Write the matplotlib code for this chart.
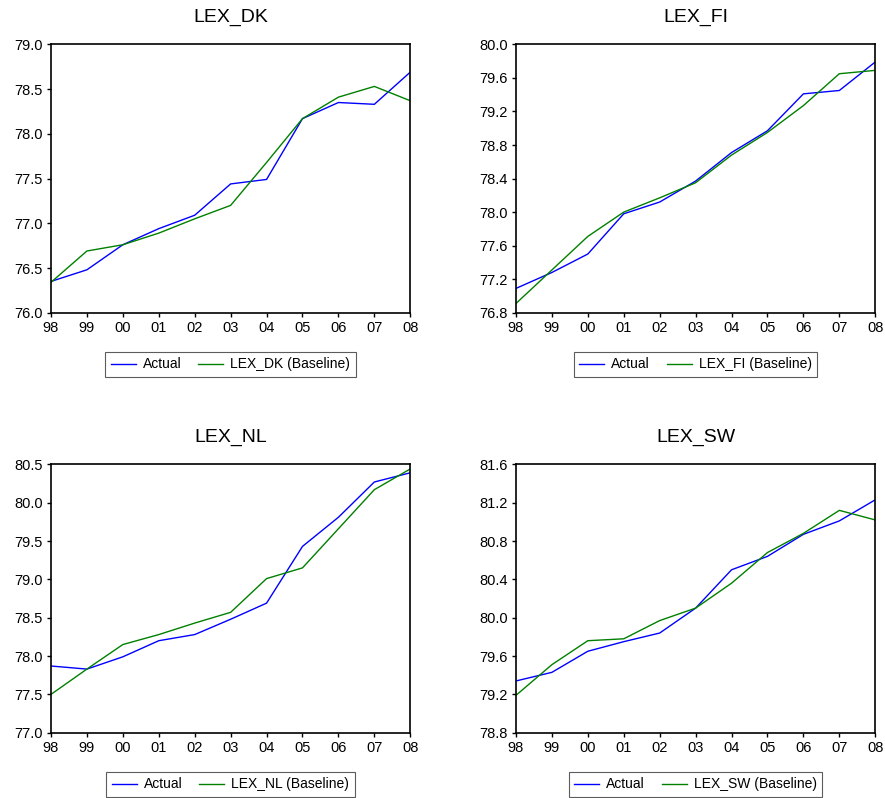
import numpy as np
import matplotlib.pyplot as plt

plt.rcParams['font.family'] = ['Liberation Sans', 'DejaVu Sans']

# --- Datos ---
years = ['98', '99', '00', '01', '02', '03', '04', '05', '06', '07', '08']

dk_actual = [76.35, 76.48, 76.76, 76.94, 77.09, 77.44, 77.49, 78.17, 78.35, 78.33, 78.69]
dk_base = [76.34, 76.69, 76.76, 76.89, 77.05, 77.20, 77.68, 78.17, 78.41, 78.53, 78.37]

fi_actual = [77.09, 77.28, 77.50, 77.98, 78.12, 78.37, 78.71, 78.97, 79.41, 79.45, 79.79]
fi_base = [76.91, 77.31, 77.71, 78.00, 78.17, 78.35, 78.68, 78.95, 79.27, 79.65, 79.69]

nl_actual = [77.87, 77.83, 77.99, 78.20, 78.28, 78.48, 78.69, 79.43, 79.81, 80.27, 80.39]
nl_base = [77.50, 77.83, 78.15, 78.28, 78.43, 78.57, 79.01, 79.15, 79.66, 80.17, 80.44]

sw_actual = [79.34, 79.43, 79.65, 79.75, 79.84, 80.10, 80.50, 80.64, 80.87, 81.01, 81.23]
sw_base = [79.19, 79.51, 79.76, 79.78, 79.97, 80.10, 80.36, 80.68, 80.88, 81.12, 81.02]

panels = [
    ('LEX_DK', dk_actual, dk_base, (76.0, 79.0), 0.5),
    ('LEX_FI', fi_actual, fi_base, (76.8, 80.0), 0.4),
    ('LEX_NL', nl_actual, nl_base, (77.0, 80.5), 0.5),
    ('LEX_SW', sw_actual, sw_base, (78.8, 81.6), 0.4),
]

# posiciones de los ejes (fracciones de la figura)
lefts = [0.0576, 0.583, 0.0576, 0.583]
bottoms = [0.6081, 0.6081, 0.0818, 0.0818]
w, h = 0.406, 0.3363

fig = plt.figure(figsize=(8.85, 7.98), dpi=100)
x = np.arange(len(years))

for i, (name, act, base, ylim, step) in enumerate(panels):
    ax = fig.add_axes([lefts[i], bottoms[i], w, h])
    ax.plot(x, act, color='#0000FF', linewidth=1.0, label='Actual')
    ax.plot(x, base, color='#008000', linewidth=1.0, label=f'{name} (Baseline)')
    ax.set_xlim(0, 10)
    ax.set_ylim(*ylim)
    ax.set_xticks(x)
    ax.set_xticklabels(years)
    ax.set_yticks(np.arange(ylim[0], ylim[1] + step / 2, step))
    ax.yaxis.set_major_formatter(plt.FormatStrFormatter('%.1f'))
    ax.tick_params(direction='out', length=3, width=1, labelsize=10.5,
                   top=False, right=False)
    ax.tick_params(axis='x', pad=3)
    ax.tick_params(axis='y', pad=3)
    for s in ax.spines.values():
        s.set_linewidth(1.2)
    ax.set_title(name, fontsize=14, pad=16)
    leg = ax.legend(loc='upper center', bbox_to_anchor=(0.5, -0.12), ncol=2,
                    fontsize=10, frameon=True, fancybox=False, edgecolor='#333333',
                    handlelength=1.8, handletextpad=0.5, columnspacing=1.2,
                    borderpad=0.4)
    leg.get_frame().set_linewidth(0.8)

fig.savefig('out.png', dpi=100)
